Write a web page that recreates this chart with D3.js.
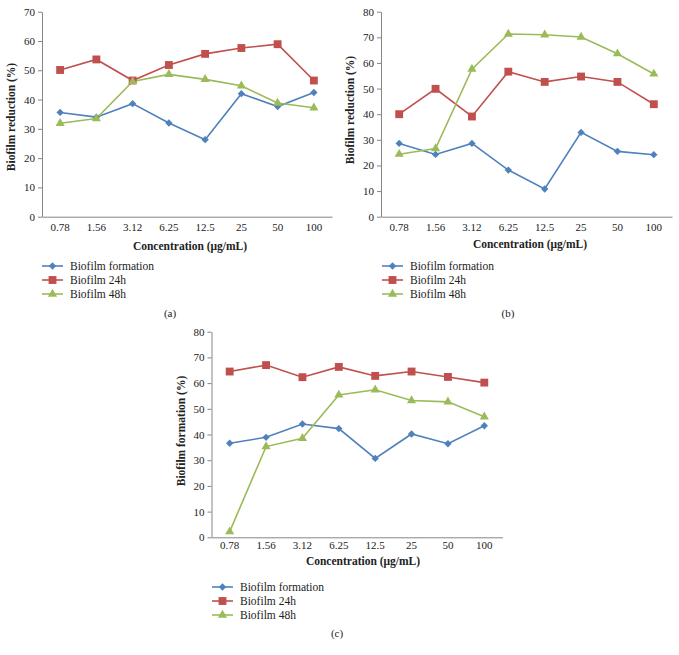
<!DOCTYPE html>
<html>
<head>
<meta charset="utf-8">
<script src="https://cdn.jsdelivr.net/npm/d3@7"></script>
<style>
  html, body { margin: 0; padding: 0; background: #fff; }
  svg { display: block; }
  text { font-family: "Liberation Serif", "Times New Roman", serif; fill: #222; }
</style>
</head>
<body>
<script>
// ---- data ----
const categories = ["0.78", "1.56", "3.12", "6.25", "12.5", "25", "50", "100"];
const seriesNames = ["Biofilm formation", "Biofilm 24h", "Biofilm 48h"];
const seriesColors = ["#4F81BD", "#C0504D", "#9BBB59"];

const aFormation = [35.6, 34.0, 38.6, 32.0, 26.3, 42.0, 37.6, 42.4];
const a24h       = [50.1, 53.7, 46.5, 51.8, 55.6, 57.6, 58.9, 46.5];
const a48h       = [31.9, 33.5, 46.2, 48.6, 46.9, 44.7, 38.8, 37.2];

const bFormation = [28.6, 24.3, 28.6, 18.2, 10.8, 32.9, 25.5, 24.2];
const b24h       = [40.0, 49.9, 39.1, 56.6, 52.6, 54.7, 52.6, 43.9];
const b48h       = [24.4, 26.6, 57.6, 71.3, 71.0, 70.1, 63.6, 55.7];

const cFormation = [36.6, 38.9, 44.1, 42.3, 30.7, 40.2, 36.4, 43.4];
const c24h       = [64.5, 67.0, 62.3, 66.3, 62.8, 64.5, 62.4, 60.2];
const c48h       = [2.2, 35.3, 38.5, 55.4, 57.4, 53.2, 52.7, 46.9];

const aTicks = [0, 10, 20, 30, 40, 50, 60, 70];
const bTicks = [0, 10, 20, 30, 40, 50, 60, 70, 80];
const cTicks = [0, 10, 20, 30, 40, 50, 60, 70, 80];

const xTitle = "Concentration (\u03bcg/mL)";
const yTitleReduction = "Biofilm reduction (%)";
const yTitleFormation = "Biofilm formation (%)";

// ---- drawing ----
const W = 679, H = 655;
const svg = d3.select("body").append("svg").attr("width", W).attr("height", H);

const symbols = [
  d3.symbol().type(d3.symbolSquare).size(27),
  d3.symbol().type(d3.symbolSquare).size(62),
  d3.symbol().type(d3.symbolTriangle).size(36)
];
const symbolRot = [45, 0, 0];

function drawPanel(cfg) {
  const g = svg.append("g");
  const x = d3.scaleBand().domain(categories).range([cfg.left, cfg.right]);
  const y = d3.scaleLinear().domain([0, d3.max(cfg.ticks)]).range([cfg.bottom, cfg.top]);

  // axes
  const yAxis = d3.axisLeft(y).tickValues(cfg.ticks).tickSize(4).tickPadding(3).tickSizeOuter(0);
  const ya = g.append("g").attr("transform", `translate(${cfg.left},0)`).call(yAxis);
  ya.attr("font-family", null);
  ya.select(".domain").attr("stroke", "#868686");
  ya.selectAll(".tick line").attr("stroke", "#868686");
  ya.selectAll(".tick text").attr("font-size", 11).attr("fill", "#222");

  const xAxis = d3.axisBottom(x).tickSize(0).tickPadding(cfg.xPad).tickSizeOuter(0);
  const xa = g.append("g").attr("transform", `translate(0,${cfg.bottom})`).call(xAxis);
  xa.attr("font-family", null);
  xa.select(".domain").attr("stroke", "#868686");
  xa.selectAll(".tick text").attr("font-size", 11).attr("fill", "#222");

  // titles
  g.append("text")
    .attr("x", cfg.xTitleX).attr("y", cfg.xTitleY)
    .attr("text-anchor", "middle").attr("font-size", 11.5).attr("font-weight", "bold")
    .text(xTitle);
  g.append("text")
    .attr("transform", `translate(${cfg.yTitleX},${cfg.yTitleY}) rotate(-90)`)
    .attr("text-anchor", "middle").attr("font-size", 11.5).attr("font-weight", "bold")
    .text(cfg.yTitle);

  // series
  const line = d3.line().x((d, i) => x(categories[i]) + x.bandwidth() / 2).y(d => y(d));
  cfg.series.forEach((vals, si) => {
    g.append("path").datum(vals)
      .attr("fill", "none").attr("stroke", seriesColors[si]).attr("stroke-width", 1.6)
      .attr("d", line);
  });
  cfg.series.forEach((vals, si) => {
    g.selectAll(null).data(vals).enter().append("path")
      .attr("d", symbols[si])
      .attr("fill", seriesColors[si])
      .attr("transform", (d, i) => `translate(${x(categories[i]) + x.bandwidth() / 2},${y(d)}) rotate(${symbolRot[si]})`);
  });

  // legend
  seriesNames.forEach((name, si) => {
    const ly = cfg.legendY + si * 14;
    g.append("line").attr("x1", cfg.legendX).attr("x2", cfg.legendX + 21)
      .attr("y1", ly).attr("y2", ly)
      .attr("stroke", seriesColors[si]).attr("stroke-width", 1.6);
    g.append("path").attr("d", symbols[si]).attr("fill", seriesColors[si])
      .attr("transform", `translate(${cfg.legendX + 10.5},${ly}) rotate(${symbolRot[si]})`);
    g.append("text").attr("x", cfg.legendX + 28).attr("y", ly + 4)
      .attr("font-size", 11.5).text(name);
  });

  g.append("text").attr("x", cfg.labelX).attr("y", cfg.labelY)
    .attr("text-anchor", "middle").attr("font-size", 11).text(cfg.label);
}

drawPanel({
  left: 42, right: 332, top: 11.7, bottom: 216.7, ticks: aTicks, xPad: 7,
  series: [aFormation, a24h, a48h], yTitle: yTitleReduction,
  xTitleX: 190, xTitleY: 249.5, yTitleX: 15, yTitleY: 117,
  legendX: 42, legendY: 266, labelX: 170, labelY: 316.5, label: "(a)"
});
drawPanel({
  left: 381, right: 672, top: 11.7, bottom: 216.7, ticks: bTicks, xPad: 7,
  series: [bFormation, b24h, b48h], yTitle: yTitleReduction,
  xTitleX: 530, xTitleY: 247.5, yTitleX: 354, yTitleY: 110,
  legendX: 382, legendY: 266, labelX: 508, labelY: 316.5, label: "(b)"
});
drawPanel({
  left: 211.5, right: 502.5, top: 331.7, bottom: 537.3, ticks: cTicks, xPad: 4,
  series: [cFormation, c24h, c48h], yTitle: yTitleFormation,
  xTitleX: 363, xTitleY: 564.5, yTitleX: 185, yTitleY: 431,
  legendX: 212, legendY: 587, labelX: 337, labelY: 637, label: "(c)"
});
</script>
</body>
</html>
